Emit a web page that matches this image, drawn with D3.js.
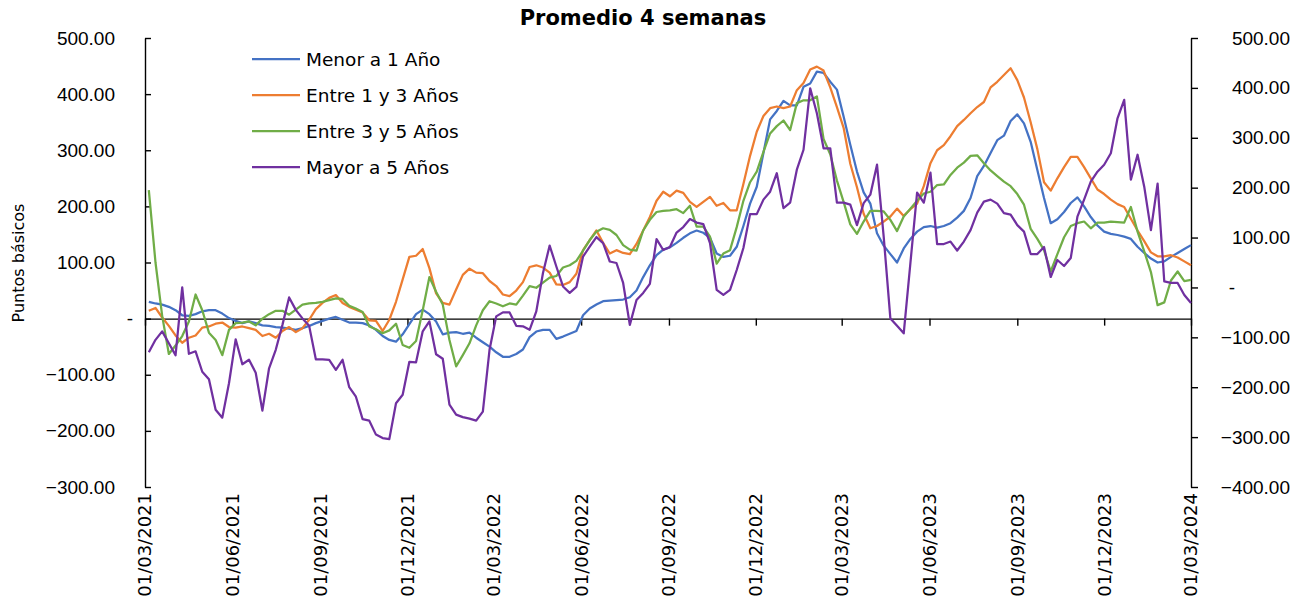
<!DOCTYPE html>
<html>
<head>
<meta charset="utf-8">
<script src="https://cdn.jsdelivr.net/npm/d3@7"></script>
<style>
  body { margin: 0; background: #fff; }
  svg { display: block; }
</style>
</head>
<body>
<div id="chart"></div>
<script>
// Spreads semanales, promedio 4 semanas (puntos básicos)

const seriesNames = ["Menor a 1 Año", "Entre 1 y 3 Años", "Entre 3 y 5 Años", "Mayor a 5 Años"];
const seriesColors = ["#4472C4", "#ED7D31", "#70AD47", "#7030A0"];
const xTickLabels = ["01/03/2021", "01/06/2021", "01/09/2021", "01/12/2021", "01/03/2022", "01/06/2022",
  "01/09/2022", "01/12/2022", "01/03/2023", "01/06/2023", "01/09/2023", "01/12/2023", "01/03/2024"];
const leftTicks = [-300, -200, -100, 0, 100, 200, 300, 400, 500];
const rightTicks = [-400, -300, -200, -100, 0, 100, 200, 300, 400, 500];
const firstWeek = "05/03/2021";   // one value per week from here on

const menor = [
  30, 27, 25, 21, 15, 6, 5, 8, 13, 15,
  15, 9, 1, -4, -8, -5, -8, -12, -13, -15,
  -16, -18, -20, -17, -13, -8, -4, 0, 3, -2,
  -7, -7, -8, -12, -20, -31, -38, -41, -28, -10,
  8, 16, 8, -5, -28, -25, -24, -27, -25, -34,
  -42, -50, -60, -68, -68, -63, -55, -33, -23, -20,
  -20, -36, -32, -27, -22, 6, 18, 25, 31, 32,
  33, 34, 38, 50, 74, 95, 113, 123, 127, 135,
  144, 152, 157, 153, 144, 116, 110, 112, 128, 165,
  205, 235, 295, 355, 370, 388, 380, 380, 413, 419,
  440, 438, 422, 408, 360, 310, 262, 225, 205, 152,
  130, 115, 100, 125, 142, 155, 163, 165, 162, 165,
  170, 180, 192, 215, 254, 272, 295, 318, 326, 352,
  364, 348, 315, 265, 215, 170, 177, 190, 206, 216,
  200, 181, 166, 155, 151, 149, 146, 142, 128, 117,
  107, 100, 102, 110, 117, 124, 131
];

const entre1y3 = [
  14, 19, 2, -13, -30, -43, -34, -30, -16, -14,
  -9, -7, -15, -16, -14, -17, -20, -31, -27, -34,
  -22, -15, -24, -17, -2, 17, 28, 37, 42, 28,
  21, 16, 11, -3, -4, -22, -2, 30, 70, 110,
  112, 124, 90, 45, 28, 25, 52, 78, 89, 82,
  81, 67, 58, 43, 40, 50, 65, 92, 95, 91,
  82, 61, 60, 65, 80, 122, 140, 157, 135, 116,
  122, 117, 115, 133, 157, 181, 210, 226, 218, 228,
  224, 208, 199, 208, 217, 201, 206, 193, 193, 240,
  290, 333, 361, 375, 378, 375, 378, 407, 420, 444,
  449, 442, 412, 377, 340, 276, 234, 187, 161, 165,
  173, 182, 196, 183, 195, 205, 236, 277, 300, 309,
  325, 343, 354, 366, 377, 386, 412, 422, 434, 446,
  425, 394, 350, 302, 243, 228, 250, 270, 288, 288,
  270, 250, 230, 222, 212, 204, 199, 178, 157, 138,
  118, 111, 111, 113, 109, 102, 95
];

const entre3y5 = [
  229, 100, 5, -63, -48, -31, -5, 43, 15, -25,
  -38, -65, -20, -8, -7, -5, -12, 0, 8, 14,
  14, 7, 16, 25, 27, 28, 30, 33, 36, 35,
  23, 18, 12, -14, -19, -26, -21, -9, -47, -52,
  -40, 15, 74, 48, 25, -38, -85, -65, -44, -12,
  15, 31, 27, 22, 27, 25, 41, 58, 55, 64,
  73, 76, 91, 95, 103, 121, 140, 155, 161, 158,
  149, 131, 123, 121, 157, 176, 190, 192, 193, 195,
  188, 201, 164, 164, 146, 98, 116, 122, 163, 210,
  243, 262, 297, 330, 343, 353, 336, 384, 389, 389,
  396, 320, 293, 246, 208, 168, 151, 173, 192, 192,
  191, 176, 156, 182, 196, 210, 223, 226, 238, 239,
  256, 269, 278, 290, 291, 277, 264, 254, 244, 236,
  222, 203, 160, 142, 122, 84, 115, 145, 165, 170,
  173, 161, 171, 171, 173, 172, 171, 199, 155, 120,
  83, 24, 29, 68, 84, 67, 69
];

// eje secundario
const mayor5 = [
  -130, -105, -88, -112, -136, 0, -133, -128, -169, -184,
  -245, -261, -192, -104, -154, -145, -171, -247, -162, -125,
  -75, -20, -45, -62, -77, -144, -144, -145, -165, -145,
  -200, -219, -264, -267, -295, -302, -304, -232, -215, -149,
  -150, -88, -68, -134, -143, -235, -255, -260, -263, -267,
  -249, -125, -58, -50, -50, -77, -78, -85, -48, 29,
  84, 42, 2, -11, 1, 62, 82, 101, 89, 52,
  49, 9, -75, -25, -11, 7, 97, 75, 81, 110,
  121, 137, 130, 127, 89, -5, -15, -5, 35, 79,
  147, 147, 176, 192, 229, 159, 170, 236, 276, 399,
  349, 279, 279, 170, 170, 166, 125, 169, 186, 246,
  102, -62, -77, -92, 49, 190, 170, 230, 87, 87,
  92, 74, 92, 115, 150, 172, 176, 168, 149, 146,
  125, 112, 67, 67, 81, 21, 55, 43, 59, 142,
  176, 212, 232, 246, 269, 339, 376, 216, 266, 202,
  115, 208, 12, 9, 9, -15, -31
];

const width = 1301, height = 601;
const parse = d3.timeParse("%d/%m/%Y");
const start = parse(firstWeek);
const weeks = menor.map((d, i) => d3.timeDay.offset(start, 7 * i));
const tickDates = xTickLabels.map(parse);

const svg = d3.select("#chart").append("svg")
    .attr("width", width)
    .attr("height", height)
    .style("font-family", "'DejaVu Sans', sans-serif");

const x = d3.scaleTime()
    .domain([tickDates[0], tickDates[tickDates.length - 1]])
    .range([145, 1191]);
const yLeft = d3.scaleLinear().domain([-300, 500]).range([487, 38]);
const yRight = d3.scaleLinear().domain([-400, 500]).range([487, 38]);

const fmt = d => d === 0 ? "-" : d3.format(".2f")(d);

// title
svg.append("text")
    .attr("x", 643)
    .attr("y", 25)
    .attr("text-anchor", "middle")
    .style("font-size", "21px")
    .style("font-weight", "bold")
    .text("Promedio 4 semanas");

// left axis
const gl = svg.append("g")
    .attr("transform", "translate(145,0)")
    .call(d3.axisLeft(yLeft).tickValues(leftTicks).tickSize(-6).tickSizeOuter(0)
      .tickPadding(30).tickFormat(fmt));
gl.selectAll("text").style("font-size", "19px").attr("fill", "#000");
gl.selectAll("text").filter(d => d === 0).attr("text-anchor", "middle").attr("x", -15);

// right axis
const gr = svg.append("g")
    .attr("transform", "translate(1191,0)")
    .call(d3.axisRight(yRight).tickValues(rightTicks).tickSize(7).tickSizeOuter(0)
      .tickFormat(fmt));
gr.selectAll("text").style("font-size", "19px").attr("fill", "#000")
    .attr("text-anchor", "end").attr("x", 99);
gr.selectAll("text").filter(d => d === 0).attr("text-anchor", "middle").attr("x", 41);

[gl, gr].forEach(g => {
  g.select(".domain").attr("stroke", "#000").attr("stroke-width", 1.4);
  g.selectAll(".tick line").attr("stroke", "#000").attr("stroke-width", 1.4);
});

// y title
svg.append("text")
    .attr("transform", "translate(24,263) rotate(-90)")
    .attr("text-anchor", "middle")
    .style("font-size", "16px")
    .text("Puntos básicos");

// date axis on zero line
const gx = svg.append("g")
    .attr("transform", `translate(0,${yLeft(0)})`)
    .call(d3.axisBottom(x).tickValues(tickDates).tickSize(7).tickSizeOuter(0).tickFormat(""));
gx.select(".domain").attr("stroke", "#000").attr("stroke-width", 1.4);
gx.selectAll(".tick line").attr("stroke", "#000").attr("stroke-width", 1.4);

svg.append("g").selectAll("text")
  .data(tickDates)
  .join("text")
    .attr("transform", d => `translate(${x(d)},493) rotate(-90)`)
    .attr("text-anchor", "end")
    .attr("dy", "0.36em")
    .style("font-size", "18px")
    .text((d, i) => xTickLabels[i]);

// lines
const allSeries = [menor, entre1y3, entre3y5, mayor5];
const scales = [yLeft, yLeft, yLeft, yRight];

allSeries.forEach((vals, k) => {
  const line = d3.line()
      .x((d, i) => x(weeks[i]))
      .y(d => scales[k](d));
  svg.append("path")
      .datum(vals)
      .attr("fill", "none")
      .attr("stroke", seriesColors[k])
      .attr("stroke-width", 2.25)
      .attr("stroke-linejoin", "round")
      .attr("d", line);
});

// legend
const legend = svg.append("g").attr("transform", "translate(252,59)");
seriesNames.forEach((name, k) => {
  const row = legend.append("g").attr("transform", `translate(0,${k * 36})`);
  row.append("line")
      .attr("x1", 0).attr("x2", 48)
      .attr("stroke", seriesColors[k])
      .attr("stroke-width", 2.25);
  row.append("text")
      .attr("x", 54)
      .attr("dy", "0.36em")
      .style("font-size", "18.5px")
      .text(name);
});
</script>
</body>
</html>
